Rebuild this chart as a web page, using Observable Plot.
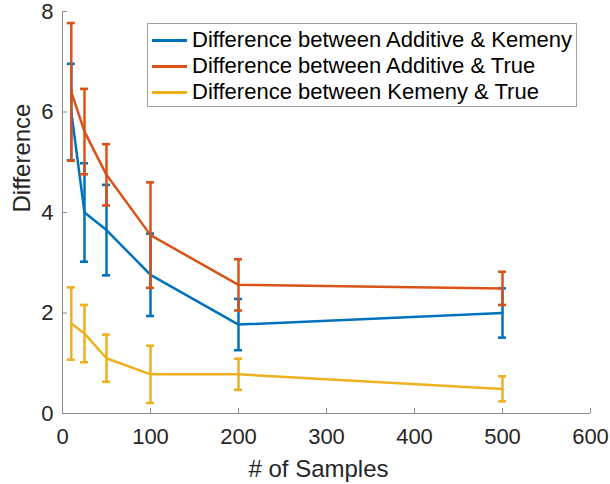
<!DOCTYPE html>
<html>
<head>
<meta charset="utf-8">
<script src="https://cdn.jsdelivr.net/npm/d3@7"></script>
<script src="https://cdn.jsdelivr.net/npm/@observablehq/plot@0.6"></script>
<style>
  body { margin: 0; background: #fff; }
  #wrap { position: relative; width: 610px; height: 484px; }
  #legend {
    position: absolute; left: 147px; top: 23px; width: 428px;
    border: 1px solid #a0a0a0; background: #fff;
    font-family: "Liberation Sans", Arial, sans-serif; font-size: 22px; color: #000;
    padding-top: 3px; box-sizing: content-box; height: 79px;
  }
  .row { display: flex; align-items: center; height: 26px; padding-left: 4px; white-space: nowrap; }
  .swatch { width: 35px; height: 3px; margin-right: 5px; flex: none; }
</style>
</head>
<body>
<div id="wrap"></div>
<script>
const samples = [10, 25, 50, 100, 200, 500];
const seriesNames = [
  "Difference between Additive & Kemeny",
  "Difference between Additive & True",
  "Difference between Kemeny & True"
];
const meanAK = [6.0, 4.0, 3.65, 2.76, 1.77, 2.0];
const errAK  = [0.96, 0.98, 0.9, 0.82, 0.51, 0.49];
const meanAT = [6.4, 5.61, 4.75, 3.55, 2.56, 2.49];
const errAT  = [1.37, 0.85, 0.61, 1.05, 0.51, 0.33];
const meanKT = [1.79, 1.59, 1.1, 0.78, 0.78, 0.49];
const errKT  = [0.72, 0.57, 0.47, 0.57, 0.31, 0.25];
const colors = ["#0072BD", "#D95319", "#EDB120"];
const xTicks = [0, 100, 200, 300, 400, 500, 600];
const yTicks = [0, 2, 4, 6, 8];
const xLabel = "# of Samples";
const yLabel = "Difference";

const means = [meanAK, meanAT, meanKT];
const errs = [errAK, errAT, errKT];
const tables = means.map((m, s) => samples.map((x, i) => ({
  series: seriesNames[s], x, mean: m[i], lo: m[i] - errs[s][i], hi: m[i] + errs[s][i]
})));

const axisGray = "#8c8c8c";
const seriesMarks = tables.flatMap((t, s) => [
  Plot.line(t, {x: "x", y: "mean", stroke: colors[s], strokeWidth: 2.5}),
  Plot.ruleX(t, {x: "x", y1: "lo", y2: "hi", stroke: colors[s], strokeWidth: 2.5}),
  Plot.ruleY(t, {y: "hi", x1: "x", x2: "x", insetLeft: -4, insetRight: -4, stroke: colors[s], strokeWidth: 2.6}),
  Plot.ruleY(t, {y: "lo", x1: "x", x2: "x", insetLeft: -4, insetRight: -4, stroke: colors[s], strokeWidth: 2.6})
]);

const chart = Plot.plot({
  width: 610,
  height: 484,
  marginLeft: 62,
  marginRight: 20,
  marginTop: 11,
  marginBottom: 71,
  x: {domain: [0, 600]},
  y: {domain: [0, 8]},
  style: {fontFamily: "'Liberation Sans', Arial, sans-serif", fontSize: "22px", color: "#262626", background: "#fff"},
  marks: [
    Plot.ruleY([0], {stroke: axisGray, strokeWidth: 1}),
    Plot.ruleX([0], {stroke: axisGray, strokeWidth: 1}),
    Plot.ruleX(xTicks, {x: d => d, y1: 0, y2: 0, insetTop: -5, insetBottom: 0, stroke: axisGray}),
    Plot.ruleY(yTicks, {y: d => d, x1: 0, x2: 0, insetLeft: 0, insetRight: -5, stroke: axisGray}),
    Plot.axisX(xTicks, {tickSize: 0, tickPadding: 15, label: null, tickFormat: d3.format("d"), fontSize: 22, fill: "#262626"}),
    Plot.axisY(yTicks, {tickSize: 0, tickPadding: 9, label: null, tickFormat: d3.format("d"), fontSize: 22, fill: "#262626"}),
    ...seriesMarks,
    Plot.text([xLabel], {frameAnchor: "bottom", text: d => d, dy: 56, dx: -8, fontSize: 24, fill: "#262626", lineAnchor: "middle"}),
    Plot.text([yLabel], {frameAnchor: "left", text: d => d, rotate: -90, dx: -40, fontSize: 24, fill: "#262626", lineAnchor: "middle"})
  ]
});

const wrap = document.getElementById("wrap");
wrap.appendChild(chart);
const legend = document.createElement("div");
legend.id = "legend";
seriesNames.forEach((name, i) => {
  const row = document.createElement("div");
  row.className = "row";
  const sw = document.createElement("span");
  sw.className = "swatch";
  sw.style.background = colors[i];
  const tx = document.createElement("span");
  tx.textContent = name;
  row.appendChild(sw);
  row.appendChild(tx);
  legend.appendChild(row);
});
wrap.appendChild(legend);
</script>
</body>
</html>
